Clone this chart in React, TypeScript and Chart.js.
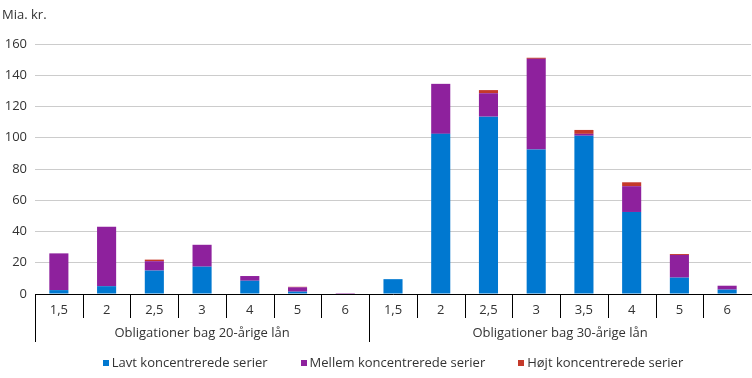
import React, { useEffect, useRef } from 'react';
import { Chart, registerables } from 'chart.js';
Chart.register(...registerables);

const groups = ['Obligationer bag 20-årige lån', 'Obligationer bag 30-årige lån'];
const labels20 = ['1,5', '2', '2,5', '3', '4', '5', '6'];
const labels30 = ['1,5', '2', '2,5', '3', '3,5', '4', '5', '6'];
const categories = [...labels20, ...labels30];

const seriesNames = ['Lavt koncentrerede serier', 'Mellem koncentrerede serier', 'Højt koncentrerede serier'];
const lavt = [2.5, 5, 15, 17.5, 8.5, 1.5, 0, 9.5, 102.5, 113.5, 92.5, 101.3, 52.5, 10.5, 2.8];
const mellem = [23.5, 38, 6, 14, 3, 2.8, 0.6, 0, 32, 15, 58, 1.2, 16.5, 14.5, 2.5];
const hoejt = [0, 0, 1, 0, 0, 0.3, 0, 0, 0, 2, 0.7, 2.5, 2.5, 0.6, 0];
const colors = ['#0078d0', '#8e219d', '#c4392a'];

const yMax = 160;
const yStep = 20;
const yTitle = 'Mia. kr.';

const FONT = "'Open Sans', sans-serif";
const FS = 13;
const TEXT = '#333333';

export default function App() {
  const ref = useRef<HTMLCanvasElement>(null);
  useEffect(() => {
    document.body.style.margin = '0';
    const canvas = ref.current!;
    const groupPlugin = {
      id: 'groupAxis',
      afterDraw(chart: any) {
        const ctx = chart.ctx;
        const x = chart.scales.x;
        const area = chart.chartArea;
        const n = categories.length;
        const boundary = (i: number) => x.getPixelForValue(i - 0.5);
        const starts = [0, labels20.length];
        ctx.save();
        ctx.strokeStyle = '#000';
        ctx.lineWidth = 1;
        for (let i = 0; i < n; i++) {
          const bx = Math.round(boundary(i)) + 0.5;
          const long = starts.includes(i);
          ctx.beginPath();
          ctx.moveTo(bx, area.bottom);
          ctx.lineTo(bx, area.bottom + (long ? 48 : 24));
          ctx.stroke();
        }
        ctx.fillStyle = TEXT;
        ctx.font = `${FS}px ${FONT}`;
        ctx.textAlign = 'center';
        ctx.textBaseline = 'middle';
        const g1 = (boundary(0) + boundary(labels20.length)) / 2;
        const g2 = (boundary(labels20.length) + boundary(n)) / 2;
        ctx.fillText(groups[0], g1, area.bottom + 39);
        ctx.fillText(groups[1], g2, area.bottom + 39);
        ctx.textAlign = 'left';
        ctx.fillText(yTitle, 2, 15);

        // legend
        const box = 6;
        const boxGap = 3;
        const itemGap = 33;
        const ds = chart.data.datasets;
        const widths = ds.map((d: any) => box + boxGap + ctx.measureText(d.label).width);
        const total = widths.reduce((a: number, b: number) => a + b, 0) + itemGap * (ds.length - 1);
        let lx = (area.left + area.right) / 2 - total / 2;
        const ly = 363;
        ds.forEach((d: any, i: number) => {
          ctx.fillStyle = d.backgroundColor;
          ctx.fillRect(Math.round(lx), ly - box / 2, box, box);
          ctx.fillStyle = TEXT;
          ctx.fillText(d.label, lx + box + boxGap, ly);
          lx += widths[i] + itemGap;
        });
        ctx.restore();
      },
    };
    const chart = new Chart(canvas, {
      type: 'bar',
      data: {
        labels: categories,
        datasets: [
          { label: seriesNames[0], data: lavt, backgroundColor: colors[0] },
          { label: seriesNames[1], data: mellem, backgroundColor: colors[1] },
          { label: seriesNames[2], data: hoejt, backgroundColor: colors[2] },
        ],
      },
      options: {
        animation: false,
        responsive: false,
        maintainAspectRatio: false,
        datasets: { bar: { categoryPercentage: 1, barPercentage: 0.4 } },
        layout: { padding: { top: 44, right: 1, left: 0, bottom: 34 } },
        scales: {
          x: {
            stacked: true,
            grid: { display: false, drawTicks: false },
            border: { display: true, color: '#000', width: 1 },
            ticks: { color: TEXT, font: { family: FONT, size: FS }, padding: 8, maxRotation: 0, autoSkip: false },
            afterFit: (s: any) => { s.height = 50; },
          },
          y: {
            stacked: true,
            min: 0,
            max: yMax,
            ticks: { stepSize: yStep, color: TEXT, font: { family: FONT, size: FS }, padding: 8 },
            grid: { color: '#cccccc', drawTicks: false },
            border: { display: false },
            afterFit: (s: any) => { s.width = 35; },
          },
        },
        plugins: {
          legend: { display: false },
          tooltip: { enabled: false },
          title: { display: false },
        },
      },
      plugins: [groupPlugin],
    });
    return () => chart.destroy();
  }, []);
  return (
    <div style={{ width: 752, height: 378 }}>
      <canvas ref={ref} width={752} height={378} style={{ display: 'block', width: 752, height: 378 }} />
    </div>
  );
}
